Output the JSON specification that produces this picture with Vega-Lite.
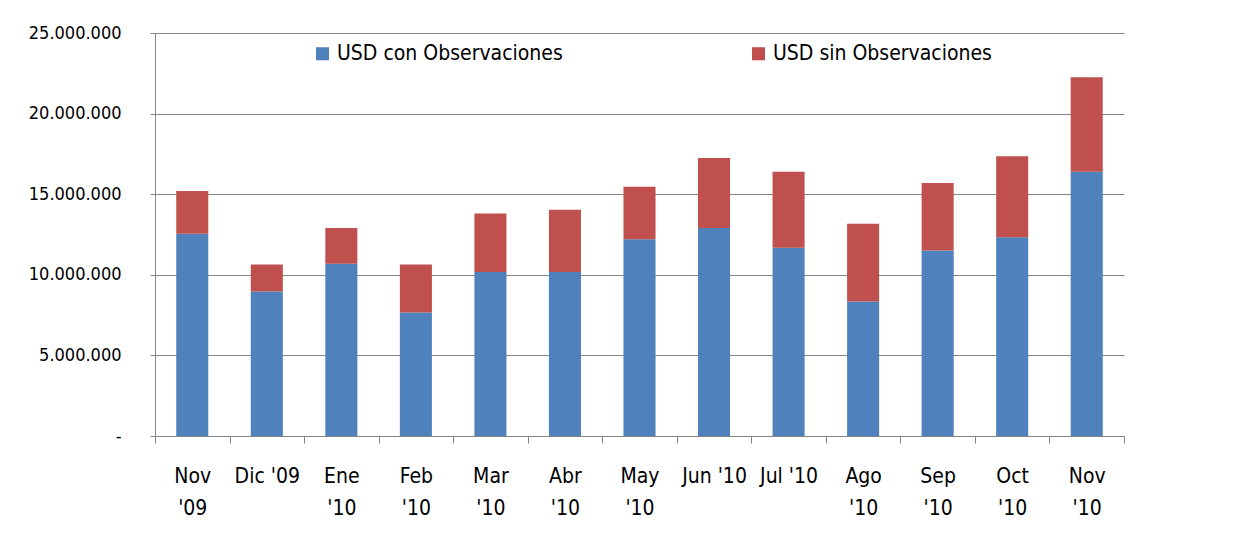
{
  "$schema": "https://vega.github.io/schema/vega-lite/v6.json",
  "width": 969,
  "height": 403,
  "autosize": {"type": "none"},
  "padding": {"left": 155, "top": 33, "right": 117, "bottom": 112},
  "background": "white",
  "data": {
    "values": [
      {"mes": "Nov|'09", "i": 1, "serie": "USD con Observaciones", "o": 1, "valor": 12540000},
      {"mes": "Nov|'09", "i": 1, "serie": "USD sin Observaciones", "o": 2, "valor": 2660000},
      {"mes": "Dic '09", "i": 2, "serie": "USD con Observaciones", "o": 1, "valor": 8960000},
      {"mes": "Dic '09", "i": 2, "serie": "USD sin Observaciones", "o": 2, "valor": 1680000},
      {"mes": "Ene|'10", "i": 3, "serie": "USD con Observaciones", "o": 1, "valor": 10690000},
      {"mes": "Ene|'10", "i": 3, "serie": "USD sin Observaciones", "o": 2, "valor": 2220000},
      {"mes": "Feb|'10", "i": 4, "serie": "USD con Observaciones", "o": 1, "valor": 7660000},
      {"mes": "Feb|'10", "i": 4, "serie": "USD sin Observaciones", "o": 2, "valor": 2980000},
      {"mes": "Mar|'10", "i": 5, "serie": "USD con Observaciones", "o": 1, "valor": 10170000},
      {"mes": "Mar|'10", "i": 5, "serie": "USD sin Observaciones", "o": 2, "valor": 3630000},
      {"mes": "Abr|'10", "i": 6, "serie": "USD con Observaciones", "o": 1, "valor": 10170000},
      {"mes": "Abr|'10", "i": 6, "serie": "USD sin Observaciones", "o": 2, "valor": 3860000},
      {"mes": "May|'10", "i": 7, "serie": "USD con Observaciones", "o": 1, "valor": 12200000},
      {"mes": "May|'10", "i": 7, "serie": "USD sin Observaciones", "o": 2, "valor": 3260000},
      {"mes": "Jun '10", "i": 8, "serie": "USD con Observaciones", "o": 1, "valor": 12910000},
      {"mes": "Jun '10", "i": 8, "serie": "USD sin Observaciones", "o": 2, "valor": 4340000},
      {"mes": "Jul '10", "i": 9, "serie": "USD con Observaciones", "o": 1, "valor": 11680000},
      {"mes": "Jul '10", "i": 9, "serie": "USD sin Observaciones", "o": 2, "valor": 4710000},
      {"mes": "Ago|'10", "i": 10, "serie": "USD con Observaciones", "o": 1, "valor": 8350000},
      {"mes": "Ago|'10", "i": 10, "serie": "USD sin Observaciones", "o": 2, "valor": 4820000},
      {"mes": "Sep|'10", "i": 11, "serie": "USD con Observaciones", "o": 1, "valor": 11510000},
      {"mes": "Sep|'10", "i": 11, "serie": "USD sin Observaciones", "o": 2, "valor": 4180000},
      {"mes": "Oct|'10", "i": 12, "serie": "USD con Observaciones", "o": 1, "valor": 12330000},
      {"mes": "Oct|'10", "i": 12, "serie": "USD sin Observaciones", "o": 2, "valor": 5030000},
      {"mes": "Nov|'10", "i": 13, "serie": "USD con Observaciones", "o": 1, "valor": 16390000},
      {"mes": "Nov|'10", "i": 13, "serie": "USD sin Observaciones", "o": 2, "valor": 5870000}
    ]
  },
  "mark": {"type": "bar", "width": {"band": 0.43}},
  "encoding": {
    "x": {
      "field": "mes",
      "type": "nominal",
      "sort": {"field": "i"},
      "title": null,
      "scale": {"paddingInner": 0, "paddingOuter": 0},
      "axis": {
        "labelAngle": 0,
        "labelExpr": "split(datum.label, '|')",
        "labelFontSize": 21,
        "labelColor": "#000000",
        "labelPadding": 22,
        "labelLineHeight": 32,
        "labelBaseline": "top",
        "tickBand": "extent",
        "tickSize": 7,
        "tickColor": "#868686",
        "domainColor": "#868686",
        "grid": false
      }
    },
    "y": {
      "field": "valor",
      "type": "quantitative",
      "stack": "zero",
      "title": null,
      "scale": {"domain": [0, 25000000], "nice": false},
      "axis": {
        "values": [0, 5000000, 10000000, 15000000, 20000000, 25000000],
        "format": ",d",
        "labelExpr": "datum.value == 0 ? '-' : datum.label",
        "labelFontSize": 18,
        "labelColor": "#000000",
        "labelPadding": 29,
        "tickSize": 5,
        "tickColor": "#868686",
        "domainColor": "#868686",
        "grid": true,
        "gridColor": "#868686",
        "gridOpacity": 1
      }
    },
    "color": {
      "field": "serie",
      "type": "nominal",
      "scale": {
        "domain": ["USD con Observaciones", "USD sin Observaciones"],
        "range": ["#4F81BD", "#C0504D"]
      },
      "legend": {
        "title": null,
        "orient": "none",
        "direction": "horizontal",
        "legendX": 157,
        "legendY": 10,
        "symbolType": "square",
        "symbolSize": 170,
        "symbolStrokeWidth": 0,
        "symbolOpacity": 1,
        "labelFontSize": 21,
        "labelColor": "#000000",
        "labelOffset": 4,
        "columnPadding": 185,
        "labelLimit": 400
      }
    },
    "order": {"field": "o", "type": "quantitative"}
  },
  "config": {
    "font": "'Liberation Sans Narrow', 'DejaVu Sans Condensed', 'Liberation Sans', sans-serif",
    "view": {"stroke": null},
    "locale": {
      "number": {"decimal": ",", "thousands": ".", "grouping": [3], "currency": ["$", ""]}
    }
  }
}
